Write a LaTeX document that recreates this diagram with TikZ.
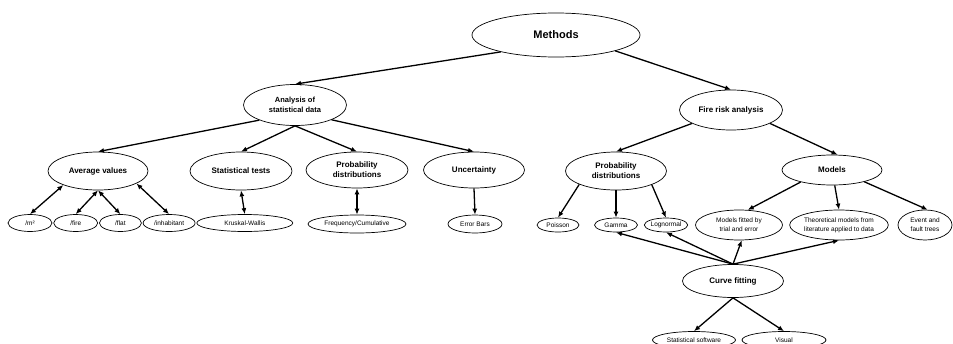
\documentclass[tikz,border=0pt]{standalone}
\usepackage{fontspec}
\setmainfont{Liberation Sans}
\usepackage{tikz}
\usetikzlibrary{shapes.geometric, arrows.meta, positioning}

\begin{document}
\begin{tikzpicture}[node distance=66pt, auto,
  root/.style={ellipse, draw, line width=0.7pt, inner sep=0pt, minimum width=168pt, minimum height=44pt, align=center, font=\fontsize{11}{13}\selectfont\bfseries},
  topic/.style={ellipse, draw, line width=0.7pt, inner sep=0pt, minimum width=101pt, minimum height=37pt, align=center, font=\fontsize{8}{10}\selectfont\bfseries},
  leaf/.style={ellipse, draw, line width=0.7pt, inner sep=0pt, minimum width=44pt, minimum height=17pt, align=center, font=\fontsize{6.5}{9}\selectfont},
  arrow/.style={-{Latex[length=6pt, width=5pt]}, line width=1.3pt},
  twoway/.style={{Latex[length=6pt, width=5pt]}-{Latex[length=6pt, width=5pt]}, line width=1.3pt}
]
  \useasboundingbox (0,0) rectangle (953pt,-343pt);

  \node[root] (methods) at (556pt,-35pt) {Methods};
  \node[topic, below of=methods, xshift=-261pt, yshift=-4pt, minimum width=103pt, minimum height=41pt, font=\fontsize{7.5}{10}\selectfont\bfseries] (analysis) {Analysis of\\statistical data};
  \node[topic, below of=methods, xshift=175pt, yshift=-9pt, minimum width=103pt, minimum height=40pt] (firerisk) {Fire risk analysis};

  \node[topic, below of=analysis, xshift=-197pt, minimum width=100pt, minimum height=38pt] (average) {Average values};
  \node[topic, below of=analysis, xshift=-54pt, minimum width=102pt, minimum height=38pt] (stattests) {Statistical tests};
  \node[topic, below of=analysis, xshift=62pt, yshift=1pt, minimum width=102pt, minimum height=36pt] (probdist) {Probability\\distributions};
  \node[topic, below of=analysis, xshift=179pt, yshift=1pt, minimum height=36pt] (uncert) {Uncertainty};
  \node[topic, below of=firerisk, xshift=-115pt, yshift=5pt, minimum height=38pt] (riskdist) {Probability\\distributions};
  \node[topic, below of=firerisk, xshift=101pt, yshift=6pt, minimum width=100pt, minimum height=30pt] (models) {Models};

  \node[leaf, below of=average, xshift=-68pt, yshift=14pt] (perarea) {/m²};
  \node[leaf, right=1pt of perarea] (perfire) {/fire};
  \node[leaf, right=1pt of perfire, minimum width=42pt] (perflat) {/flat};
  \node[leaf, right=1pt of perflat, minimum width=52pt] (perinhab) {/inhabitant};
  \node[leaf, right=1pt of perinhab, minimum width=96pt] (kruskal) {Kruskal-Wallis};
  \node[leaf, below of=probdist, yshift=12pt, minimum width=98pt, minimum height=18pt] (freqcum) {Frequency/Cumulative};
  \node[leaf, below of=uncert, xshift=1pt, yshift=12pt, minimum width=54pt, minimum height=18pt] (errbars) {Error Bars};

  \node[leaf, below of=riskdist, xshift=-58pt, yshift=12pt, minimum width=42pt, minimum height=14pt] (poisson) {Poisson};
  \node[leaf, below of=riskdist, yshift=12pt, minimum width=43pt, minimum height=14pt] (gamma) {Gamma};
  \node[leaf, below of=riskdist, xshift=50pt, yshift=12pt, minimum width=43pt, minimum height=14pt] (lognormal) {Lognormal};
  \node[leaf, below of=models, xshift=-93pt, yshift=11pt, minimum width=87pt, minimum height=30pt] (fitted) {Models fitted by\\trial and error};
  \node[leaf, below of=models, xshift=7pt, yshift=11pt, minimum width=98pt, minimum height=30pt] (theory) {Theoretical models from\\literature applied to data};
  \node[leaf, below of=models, xshift=93pt, yshift=11pt, minimum width=54pt, minimum height=30pt] (eventtree) {Event and\\fault trees};

  \node[topic, below of=fitted, xshift=-6pt, yshift=10pt, minimum width=101pt, minimum height=33pt] (curvefit) {Curve fitting};
  \node[leaf, below of=curvefit, xshift=-39pt, yshift=7pt, minimum width=83pt] (software) {Statistical software};
  \node[leaf, below of=curvefit, xshift=51pt, yshift=7pt, minimum width=84pt] (visual) {Visual};

  \draw[arrow] (methods.197) -- (analysis.north);
  \draw[arrow] (methods.-15) -- (firerisk.north);

  \draw[arrow] (analysis.203) -- (average.north);
  \draw[arrow] (analysis.south) -- (stattests.north);
  \draw[arrow] (analysis.south) -- (probdist.north);
  \draw[arrow] (analysis.-22) -- (uncert.north);

  \draw[arrow] (firerisk.199) -- (riskdist.north);
  \draw[arrow] (firerisk.-19) -- (models.70);

  \draw[twoway] (average.202) -- (perarea.north);
  \draw[twoway] (average.south) -- (perfire.north);
  \draw[twoway] (average.south) -- (perflat.north);
  \draw[twoway] (average.-18) -- (perinhab.north);
  \draw[twoway] (stattests.south) -- (kruskal.north);
  \draw[twoway] (probdist.south) -- (freqcum.north);
  \draw[arrow] (uncert.south) -- (errbars.north);

  \draw[arrow] (riskdist.200) -- (poisson.north);
  \draw[arrow] (riskdist.south) -- (gamma.north);
  \draw[arrow] (riskdist.-21) -- (lognormal.north);

  \draw[arrow] (models.201) -- (fitted.60);
  \draw[arrow] (models.-80) -- (theory.north);
  \draw[arrow] (models.-20) -- (eventtree.80);

  \draw[arrow] (curvefit.north) -- (gamma.south);
  \draw[arrow] (curvefit.north) -- (lognormal.south);
  \draw[arrow] (curvefit.north) -- (fitted.-80);
  \draw[arrow] (curvefit.north) -- (theory.south);
  \draw[arrow] (curvefit.south) -- (software.north);
  \draw[arrow] (curvefit.south) -- (visual.north);
\end{tikzpicture}
\end{document}
